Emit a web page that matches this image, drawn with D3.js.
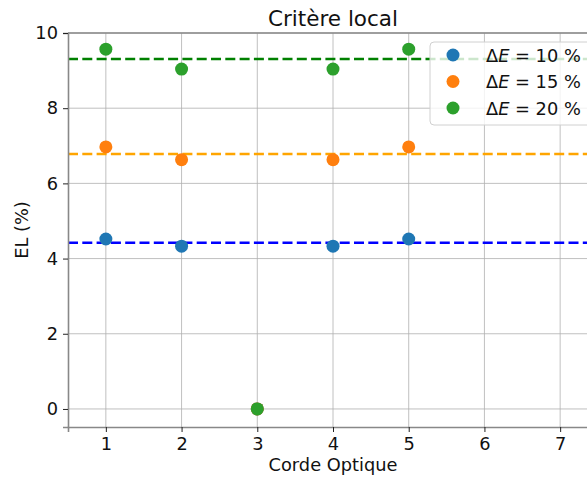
<!DOCTYPE html>
<html>
<head>
<meta charset="utf-8">
<script src="https://cdn.jsdelivr.net/npm/d3@7"></script>
<style>
  body { margin: 0; background: #fff; }
  svg { display: block; font-family: "DejaVu Sans", sans-serif; }
</style>
</head>
<body>
<div id="chart"></div>
<script>
// chart data
const cordes = [1, 2, 3, 4, 5];
const seriesNames = ['10', '15', '20'];
const el10 = [4.52, 4.33, 0, 4.33, 4.52];
const el15 = [6.97, 6.63, 0, 6.63, 6.97];
const el20 = [9.57, 9.04, 0, 9.04, 9.57];
const refLines = [4.42, 6.78, 9.31];
const xTicks = [1, 2, 3, 4, 5, 6, 7];
const yTicks = [0, 2, 4, 6, 8, 10];

const width = 587, height = 477;
const margin = { top: 33, left: 68, bottom: 50 };
const plotRight = 598;

const pointColors = ['#1f77b4', '#ff7f0e', '#2ca02c'];
const lineColors = ['#0000ff', '#ffa500', '#008000'];
const series = [el10, el15, el20];

const svg = d3.select('#chart').append('svg')
    .attr('width', width)
    .attr('height', height);

const x = d3.scaleLinear().domain([0.5, 7.5]).range([margin.left, plotRight]);
const y = d3.scaleLinear().domain([-0.48, 10]).range([height - margin.bottom, margin.top]);

// grid
svg.append('g').selectAll('line')
    .data(xTicks)
    .join('line')
    .attr('x1', d => x(d)).attr('x2', d => x(d))
    .attr('y1', y.range()[0]).attr('y2', y.range()[1])
    .attr('stroke', '#b0b0b0').attr('stroke-width', 0.8);
svg.append('g').selectAll('line')
    .data(yTicks)
    .join('line')
    .attr('x1', margin.left).attr('x2', plotRight)
    .attr('y1', d => y(d)).attr('y2', d => y(d))
    .attr('stroke', '#b0b0b0').attr('stroke-width', 0.8);

// reference dashed lines
svg.append('g').selectAll('line')
    .data(refLines)
    .join('line')
    .attr('x1', margin.left).attr('x2', plotRight)
    .attr('y1', d => y(d)).attr('y2', d => y(d))
    .attr('stroke', (d, i) => lineColors[i])
    .attr('stroke-width', 2.6)
    .attr('stroke-dasharray', '10,4.3');

// points
series.forEach((vals, i) => {
    svg.append('g').selectAll('circle')
        .data(vals)
        .join('circle')
        .attr('cx', (d, j) => x(cordes[j]))
        .attr('cy', d => y(d))
        .attr('r', 6.5)
        .attr('fill', pointColors[i]);
});

// axes
const xAxis = svg.append('g')
    .attr('transform', `translate(0,${y.range()[0]})`)
    .call(d3.axisBottom(x).tickValues(xTicks).tickFormat(d3.format('d')).tickSize(5).tickPadding(5));
const yAxis = svg.append('g')
    .attr('transform', `translate(${margin.left},0)`)
    .call(d3.axisLeft(y).tickValues(yTicks).tickFormat(d3.format('d')).tickSize(5).tickPadding(5));
[xAxis, yAxis].forEach(a => {
    a.selectAll('text').attr('font-size', 17.8).attr('fill', '#111').attr('font-family', '"DejaVu Sans", sans-serif');
    a.selectAll('line').attr('stroke', '#222');
    a.select('.domain').attr('stroke', '#888').attr('stroke-width', 1.6);
});
// top spine
svg.append('line')
    .attr('x1', margin.left).attr('x2', plotRight)
    .attr('y1', margin.top).attr('y2', margin.top)
    .attr('stroke', '#888').attr('stroke-width', 1.6);

// titles
svg.append('text')
    .attr('x', (margin.left + plotRight) / 2).attr('y', 26)
    .attr('text-anchor', 'middle').attr('font-size', 21.5).attr('fill', '#111')
    .text('Critère local');
svg.append('text')
    .attr('x', (margin.left + plotRight) / 2).attr('y', 471)
    .attr('text-anchor', 'middle').attr('font-size', 17.8).attr('fill', '#111')
    .text('Corde Optique');
svg.append('text')
    .attr('transform', `translate(28,${(y.range()[0] + y.range()[1]) / 2}) rotate(-90)`)
    .attr('text-anchor', 'middle').attr('font-size', 17.8).attr('fill', '#111')
    .text('EL (%)');

// legend
const legend = svg.append('g').attr('transform', 'translate(430,42)');
legend.append('rect')
    .attr('width', 170).attr('height', 83)
    .attr('rx', 4)
    .attr('fill', 'rgba(255,255,255,0.8)')
    .attr('stroke', '#d0d0d0');
seriesNames.forEach((name, i) => {
    const row = legend.append('g').attr('transform', `translate(0,${13 + i * 26.5})`);
    row.append('circle').attr('cx', 23).attr('cy', 0).attr('r', 6.5).attr('fill', pointColors[i]);
    const t = row.append('text').attr('x', 56).attr('y', 6.5).attr('font-size', 17.8).attr('fill', '#111');
    t.append('tspan').text('Δ');
    t.append('tspan').attr('font-style', 'italic').text('E');
    t.append('tspan').text(` = ${name} %`);
});
</script>
</body>
</html>
